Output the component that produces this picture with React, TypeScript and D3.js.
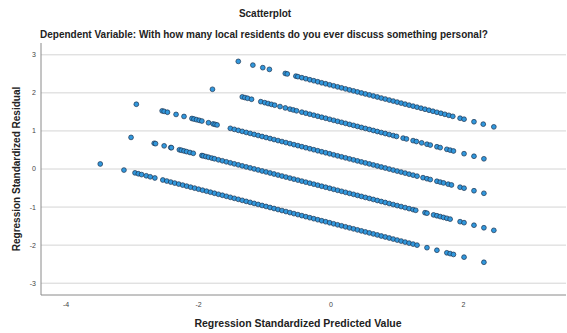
import * as d3 from "d3";

// residual bands, [standardized predicted, standardized residual]
const band0: [number, number][] = [
  [-3.485, 0.132], [-3.127, -0.028], [-2.96, -0.102], [-2.91, -0.125], [-2.86, -0.147],
  [-2.79, -0.178], [-2.73, -0.205], [-2.66, -0.236], [-2.54, -0.289], [-2.48, -0.316],
  [-2.42, -0.343], [-2.36, -0.37], [-2.3, -0.396], [-2.24, -0.423], [-2.18, -0.45],
  [-2.12, -0.477], [-2.06, -0.503], [-2.0, -0.53], [-1.94, -0.557], [-1.88, -0.583],
  [-1.82, -0.61], [-1.76, -0.637], [-1.7, -0.664], [-1.64, -0.69], [-1.58, -0.717],
  [-1.52, -0.744], [-1.46, -0.771], [-1.4, -0.797], [-1.34, -0.824], [-1.28, -0.851],
  [-1.22, -0.877], [-1.16, -0.904], [-1.1, -0.931], [-1.04, -0.958], [-0.98, -0.984],
  [-0.92, -1.011], [-0.86, -1.038], [-0.8, -1.065], [-0.74, -1.091], [-0.68, -1.118],
  [-0.62, -1.145], [-0.56, -1.172], [-0.5, -1.198], [-0.44, -1.225], [-0.38, -1.252],
  [-0.32, -1.279], [-0.26, -1.305], [-0.2, -1.332], [-0.14, -1.359], [-0.08, -1.385],
  [-0.02, -1.412], [0.04, -1.439], [0.1, -1.466], [0.16, -1.492], [0.22, -1.519],
  [0.28, -1.546], [0.34, -1.572], [0.4, -1.599], [0.46, -1.626], [0.52, -1.653],
  [0.58, -1.679], [0.64, -1.706], [0.7, -1.733], [0.76, -1.76], [0.82, -1.786],
  [0.88, -1.813], [0.94, -1.84], [1.0, -1.867], [1.06, -1.893], [1.12, -1.92],
  [1.18, -1.947], [1.24, -1.973], [1.3, -2.0], [1.45, -2.067], [1.6, -2.134],
  [1.75, -2.201], [1.8, -2.223], [1.85, -2.245], [2.01, -2.316], [2.31, -2.45],
];

const band1: [number, number][] = [
  [-3.02, 0.83], [-2.67, 0.675], [-2.65, 0.666], [-2.52, 0.608], [-2.42, 0.563],
  [-2.41, 0.559], [-2.29, 0.505], [-2.26, 0.492], [-2.22, 0.474], [-2.18, 0.456],
  [-2.13, 0.434], [-2.08, 0.412], [-1.95, 0.354], [-1.93, 0.345], [-1.89, 0.327],
  [-1.85, 0.309], [-1.8, 0.287], [-1.76, 0.269], [-1.7, 0.242], [-1.64, 0.216],
  [-1.58, 0.189], [-1.52, 0.162], [-1.46, 0.135], [-1.4, 0.109], [-1.34, 0.082],
  [-1.28, 0.055], [-1.22, 0.029], [-1.16, 0.002], [-1.1, -0.025], [-1.04, -0.052],
  [-0.98, -0.078], [-0.92, -0.105], [-0.86, -0.132], [-0.8, -0.159], [-0.74, -0.185],
  [-0.68, -0.212], [-0.62, -0.239], [-0.56, -0.266], [-0.5, -0.292], [-0.44, -0.319],
  [-0.38, -0.346], [-0.32, -0.373], [-0.26, -0.399], [-0.2, -0.426], [-0.14, -0.453],
  [-0.08, -0.479], [-0.02, -0.506], [0.04, -0.533], [0.1, -0.56], [0.16, -0.586],
  [0.22, -0.613], [0.28, -0.64], [0.34, -0.666], [0.4, -0.693], [0.46, -0.72],
  [0.52, -0.747], [0.58, -0.773], [0.64, -0.8], [0.7, -0.827], [0.76, -0.854],
  [0.82, -0.88], [0.88, -0.907], [0.94, -0.934], [1.0, -0.961], [1.06, -0.987],
  [1.12, -1.014], [1.18, -1.041], [1.24, -1.067], [1.28, -1.085], [1.42, -1.148],
  [1.45, -1.161], [1.55, -1.206], [1.6, -1.228], [1.65, -1.25], [1.7, -1.272],
  [1.75, -1.295], [1.8, -1.317], [1.95, -1.384], [2.01, -1.41], [2.16, -1.477],
  [2.31, -1.544], [2.46, -1.611],
];

const band2: [number, number][] = [
  [-2.94, 1.701], [-2.55, 1.527], [-2.52, 1.514], [-2.47, 1.491], [-2.34, 1.434],
  [-2.22, 1.38], [-2.1, 1.327], [-2.07, 1.313], [-2.03, 1.295], [-1.99, 1.278],
  [-1.95, 1.26], [-1.85, 1.215], [-1.78, 1.184], [-1.75, 1.171], [-1.72, 1.157],
  [-1.52, 1.068], [-1.46, 1.041], [-1.4, 1.015], [-1.34, 0.988], [-1.28, 0.961],
  [-1.22, 0.935], [-1.16, 0.908], [-1.1, 0.881], [-1.04, 0.854], [-0.98, 0.828],
  [-0.92, 0.801], [-0.86, 0.774], [-0.8, 0.747], [-0.74, 0.721], [-0.68, 0.694],
  [-0.62, 0.667], [-0.56, 0.64], [-0.5, 0.614], [-0.44, 0.587], [-0.38, 0.56],
  [-0.32, 0.533], [-0.26, 0.507], [-0.2, 0.48], [-0.14, 0.453], [-0.08, 0.427],
  [-0.02, 0.4], [0.04, 0.373], [0.1, 0.346], [0.16, 0.32], [0.22, 0.293],
  [0.28, 0.266], [0.34, 0.24], [0.4, 0.213], [0.46, 0.186], [0.52, 0.159],
  [0.58, 0.133], [0.64, 0.106], [0.7, 0.079], [0.76, 0.052], [0.82, 0.026],
  [0.88, -0.001], [0.94, -0.028], [1.0, -0.055], [1.06, -0.081], [1.12, -0.108],
  [1.18, -0.135], [1.24, -0.161], [1.3, -0.188], [1.39, -0.228], [1.45, -0.255],
  [1.5, -0.277], [1.6, -0.322], [1.65, -0.344], [1.7, -0.366], [1.77, -0.398],
  [1.82, -0.42], [1.95, -0.478], [2.01, -0.504], [2.16, -0.571], [2.31, -0.638],
];

const band3: [number, number][] = [
  [-1.79, 2.094], [-1.34, 1.894], [-1.3, 1.876], [-1.26, 1.858], [-1.2, 1.832],
  [-1.06, 1.769], [-1.0, 1.743], [-0.95, 1.72], [-0.9, 1.698], [-0.85, 1.676],
  [-0.77, 1.64], [-0.69, 1.604], [-0.62, 1.573], [-0.57, 1.551], [-0.52, 1.529],
  [-0.44, 1.493], [-0.38, 1.466], [-0.32, 1.439], [-0.26, 1.413], [-0.2, 1.386],
  [-0.14, 1.359], [-0.08, 1.333], [-0.02, 1.306], [0.04, 1.279], [0.1, 1.252],
  [0.16, 1.226], [0.22, 1.199], [0.28, 1.172], [0.34, 1.146], [0.4, 1.119],
  [0.46, 1.092], [0.52, 1.065], [0.58, 1.039], [0.64, 1.012], [0.7, 0.985],
  [0.76, 0.958], [0.82, 0.932], [0.88, 0.905], [0.94, 0.878], [0.99, 0.856],
  [1.09, 0.811], [1.14, 0.789], [1.24, 0.745], [1.29, 0.722], [1.37, 0.687],
  [1.45, 0.651], [1.5, 0.629], [1.6, 0.584], [1.65, 0.562], [1.75, 0.517],
  [1.8, 0.495], [1.85, 0.473], [2.01, 0.402], [2.16, 0.335], [2.31, 0.268],
];

const band4: [number, number][] = [
  [-1.4, 2.827], [-1.18, 2.729], [-1.03, 2.662], [-0.93, 2.617], [-0.69, 2.51],
  [-0.66, 2.497], [-0.53, 2.439], [-0.5, 2.426], [-0.44, 2.399], [-0.38, 2.372],
  [-0.32, 2.345], [-0.26, 2.319], [-0.2, 2.292], [-0.14, 2.265], [-0.08, 2.239],
  [-0.02, 2.212], [0.04, 2.185], [0.1, 2.158], [0.16, 2.132], [0.22, 2.105],
  [0.28, 2.078], [0.34, 2.052], [0.4, 2.025], [0.46, 1.998], [0.52, 1.971],
  [0.58, 1.945], [0.64, 1.918], [0.7, 1.891], [0.76, 1.864], [0.82, 1.838],
  [0.88, 1.811], [0.94, 1.784], [1.0, 1.757], [1.06, 1.731], [1.12, 1.704],
  [1.18, 1.677], [1.24, 1.651], [1.3, 1.624], [1.36, 1.597], [1.42, 1.57],
  [1.48, 1.544], [1.54, 1.517], [1.6, 1.49], [1.66, 1.464], [1.72, 1.437],
  [1.78, 1.41], [1.84, 1.383], [1.95, 1.334], [2.01, 1.308], [2.16, 1.241],
  [2.3, 1.178], [2.46, 1.107],
];

const xTicks = [-4, -2, 0, 2];
const yTicks = [-3, -2, -1, 0, 1, 2, 3];

const title = "Scatterplot";
const subtitle = "Dependent Variable: With how many local residents do you ever discuss something personal?";
const xLabel = "Regression Standardized Predicted Value";
const yLabel = "Regression Standardized Residual";

export default function App() {
  const width = 567;
  const height = 333;
  const left = 41;
  const right = 566;
  const top = 43;
  const bottom = 295;

  const x = d3.scaleLinear().domain([-4.38, 3.55]).range([left, right]);
  const y = d3.scaleLinear().domain([-3.31, 3.31]).range([bottom, top]);

  const points = [...band0, ...band1, ...band2, ...band3, ...band4];
  const font = "'Liberation Sans', Arial, sans-serif";

  return (
    <svg
      width={width}
      height={height}
      style={{ position: "absolute", left: 0, top: 0, fontFamily: font }}
    >
      <rect width={width} height={height} fill="white" />
      <text x={265} y={17} textAnchor="middle" fontSize={10} fontWeight="bold" fill="#222">
        {title}
      </text>
      <text x={40} y={38} fontSize={10} fontWeight="bold" fill="#222">
        {subtitle}
      </text>

      {yTicks.map(t => (
        <g key={t}>
          <line x1={left} x2={right} y1={y(t)} y2={y(t)} stroke="#d4d4d4" strokeWidth={1} />
          <text x={36} y={y(t)} dy="0.35em" textAnchor="end" fontSize={7} fill="#444">
            {t}
          </text>
        </g>
      ))}
      {xTicks.map(t => (
        <text key={t} x={x(t)} y={307} textAnchor="middle" fontSize={7} fill="#444">
          {t}
        </text>
      ))}

      <line x1={left} x2={left} y1={top} y2={bottom} stroke="#8a8a8a" />
      <line x1={left} x2={right} y1={bottom} y2={bottom} stroke="#8a8a8a" />

      <g fill="#3197dc" stroke="#1c3450" strokeWidth={0.7}>
        {points.map((d, i) => (
          <circle key={i} cx={x(d[0])} cy={y(d[1])} r={2.4} />
        ))}
      </g>

      <text x={298} y={327} textAnchor="middle" fontSize={10.5} fontWeight="bold" fill="#222">
        {xLabel}
      </text>
      <text
        transform={`translate(20,169) rotate(-90)`}
        textAnchor="middle"
        fontSize={10}
        fontWeight="bold"
        fill="#222"
      >
        {yLabel}
      </text>
    </svg>
  );
}
